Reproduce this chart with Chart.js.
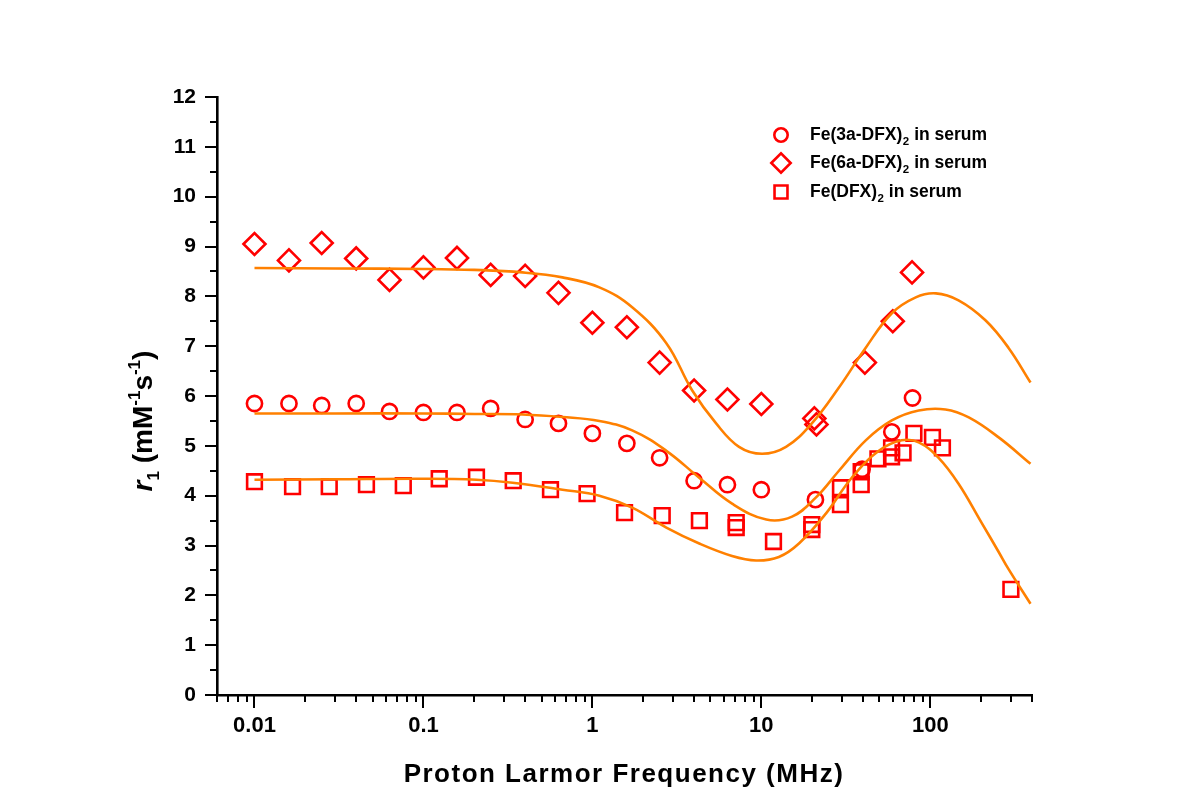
<!DOCTYPE html>
<html>
<head>
<meta charset="utf-8">
<title>Relaxivity profiles</title>
<script src="https://cdn.jsdelivr.net/npm/chart.js@4.4.1/dist/chart.umd.min.js"></script>
<style>
  html, body { margin: 0; padding: 0; background: #ffffff; }
  #wrap { width: 1181px; height: 791px; position: relative; }
</style>
</head>
<body>
<div id="wrap"><canvas id="nmrd" width="1181" height="791"></canvas></div>
<script>
const FONT = '"Liberation Sans", Arial, Helvetica, sans-serif';

// Measured r1 values (mM^-1 s^-1) against proton Larmor frequency (MHz)
const freq3a = [0.01, 0.016, 0.025, 0.04, 0.063, 0.1, 0.158, 0.25, 0.4, 0.63, 1, 1.6, 2.5, 4, 6.3, 10, 20.9, 39.5, 59.2, 78.5];
const r1_3a  = [5.85, 5.85, 5.81, 5.85, 5.69, 5.67, 5.67, 5.75, 5.53, 5.45, 5.25, 5.05, 4.76, 4.30, 4.22, 4.12, 3.92, 4.53, 5.28, 5.96];

const freq6a = [0.01, 0.016, 0.025, 0.04, 0.063, 0.1, 0.158, 0.25, 0.4, 0.63, 1, 1.6, 2.5, 4, 6.3, 10, 20.6, 21.2, 41, 60, 78];
const r1_6a  = [9.05, 8.72, 9.07, 8.76, 8.33, 8.58, 8.77, 8.43, 8.41, 8.07, 7.47, 7.38, 6.67, 6.11, 5.93, 5.84, 5.55, 5.43, 6.67, 7.50, 8.48];

const freqDFX = [0.01, 0.0168, 0.0277, 0.046, 0.076, 0.124, 0.206, 0.34, 0.565, 0.93, 1.55, 2.59, 4.3, 7.1, 7.1, 11.8, 19.9, 19.9, 29.4, 29.4, 39, 39, 49, 59, 59, 69, 80, 103, 118, 300];
const r1_DFX  = [4.28, 4.18, 4.18, 4.22, 4.20, 4.34, 4.37, 4.30, 4.12, 4.04, 3.66, 3.60, 3.50, 3.46, 3.36, 3.08, 3.42, 3.32, 4.16, 3.82, 4.48, 4.22, 4.74, 4.96, 4.78, 4.86, 5.25, 5.17, 4.96, 2.12];

// Fitted NMRD curves
const fit6aFreq = [0.01, 0.03, 0.1, 0.2, 0.386, 0.665, 1.10, 1.72, 2.74, 3.90, 5.40, 7.38, 10.1, 14.0, 19.9, 28.8, 41.5, 59.2, 82.0, 108, 147, 212, 290, 392];
const fit6aR1   = [8.57, 8.56, 8.55, 8.53, 8.48, 8.38, 8.18, 7.78, 7.06, 6.11, 5.45, 4.98, 4.84, 4.98, 5.45, 6.17, 6.97, 7.66, 7.98, 8.06, 7.92, 7.52, 6.97, 6.27];

const fit3aFreq = [0.01, 0.03, 0.1, 0.2, 0.386, 0.665, 1.10, 1.72, 2.74, 4.29, 6.71, 10.7, 15.2, 21.0, 28.8, 41.5, 59.2, 85.4, 123, 169, 254, 392];
const fit3aR1   = [5.65, 5.65, 5.65, 5.64, 5.63, 5.58, 5.50, 5.31, 4.90, 4.36, 3.84, 3.52, 3.58, 3.96, 4.50, 5.11, 5.51, 5.71, 5.73, 5.57, 5.17, 4.64];

const fitDFXFreq = [0.01, 0.03, 0.1, 0.206, 0.337, 0.665, 1.10, 1.72, 2.74, 4.29, 6.71, 9.31, 12.7, 16.7, 24.1, 34.3, 49.6, 67.8, 85.4, 112, 147, 201, 254, 290, 392];
const fitDFXR1   = [4.32, 4.33, 4.34, 4.32, 4.26, 4.12, 4.00, 3.76, 3.36, 3.04, 2.79, 2.70, 2.77, 3.04, 3.64, 4.36, 4.90, 5.11, 5.07, 4.76, 4.24, 3.46, 2.87, 2.53, 1.83];

// Axis ticks
const xMajorTicks = [0.01, 0.1, 1, 10, 100];
const xLabels = ['0.01', '0.1', '1', '10', '100'];
const yMajorTicks = [0, 1, 2, 3, 4, 5, 6, 7, 8, 9, 10, 11, 12];

// Legend entries: name, subscript, suffix
const legendNames = [
  ['Fe(3a-DFX)', '2', ' in serum'],
  ['Fe(6a-DFX)', '2', ' in serum'],
  ['Fe(DFX)', '2', ' in serum']
];

const RED = '#ff0000';
const ORANGE = '#ff8000';
const X_MIN = 0.006, X_MAX = 400;

const pairs = (xs, ys) => xs.map((x, i) => ({ x, y: ys[i] }));

function markerSet(label, xs, ys, style, radius) {
  return {
    label, data: pairs(xs, ys), showLine: false, order: 1,
    pointStyle: style, pointRadius: radius, pointHoverRadius: radius,
    pointBorderWidth: 2.6, pointBorderColor: RED, pointBackgroundColor: 'rgba(0,0,0,0)',
    borderColor: RED, backgroundColor: 'rgba(0,0,0,0)'
  };
}
function curveSet(label, xs, ys) {
  return {
    label, data: pairs(xs, ys), showLine: true, order: 0,
    pointRadius: 0, pointHoverRadius: 0, borderColor: ORANGE, borderWidth: 2.6,
    tension: 0.4, fill: false
  };
}

// Minor/major tick marks drawn outward from both axes
const tickMarks = {
  id: 'tickMarks',
  afterDraw(chart) {
    const ctx = chart.ctx, area = chart.chartArea;
    const xs = chart.scales.x, ys = chart.scales.y;
    ctx.save();
    ctx.strokeStyle = '#000';
    ctx.lineWidth = 2;
    xs.ticks.forEach(t => {
      const major = xMajorTicks.some(m => Math.abs(m - t.value) < m * 1e-6);
      const px = Math.round(xs.getPixelForValue(t.value));
      ctx.beginPath();
      ctx.moveTo(px, area.bottom);
      ctx.lineTo(px, area.bottom + (major ? 13 : 7));
      ctx.stroke();
    });
    ys.ticks.forEach(t => {
      const major = yMajorTicks.includes(t.value);
      const py = Math.round(ys.getPixelForValue(t.value));
      ctx.beginPath();
      ctx.moveTo(area.left, py);
      ctx.lineTo(area.left - (major ? 12 : 7), py);
      ctx.stroke();
    });
    ctx.restore();
  }
};

// Axis titles with sub/superscripts
const axisTitles = {
  id: 'axisTitles',
  afterDraw(chart) {
    const ctx = chart.ctx;
    ctx.save();
    ctx.fillStyle = '#000';
    ctx.textBaseline = 'alphabetic';
    ctx.textAlign = 'center';
    ctx.font = 'bold 26px ' + FONT;
    if ('letterSpacing' in ctx) ctx.letterSpacing = '1.5px';
    ctx.fillText('Proton Larmor Frequency (MHz)', 624, 782);
    if ('letterSpacing' in ctx) ctx.letterSpacing = '0px';

    // vertical title: r1 (mM-1 s-1)
    const big = 'bold 28px ' + FONT, bigIt = 'italic bold 28px ' + FONT, small = 'bold 17px ' + FONT;
    const parts = [
      [bigIt, 'r', 0], [small, '1', 7], [big, ' (mM', 0], [small, '-1', -12],
      [big, 's', 0], [small, '-1', -12], [big, ')', 0]
    ];
    let total = 0;
    parts.forEach(p => { ctx.font = p[0]; total += ctx.measureText(p[1]).width; });
    ctx.translate(152, 421);
    ctx.rotate(-Math.PI / 2);
    ctx.textAlign = 'left';
    let pos = -total / 2;
    parts.forEach(p => {
      ctx.font = p[0];
      ctx.fillText(p[1], pos, p[2]);
      pos += ctx.measureText(p[1]).width;
    });
    ctx.restore();
  }
};

// Legend with subscripted names
const seriesLegend = {
  id: 'seriesLegend',
  afterDraw(chart) {
    const ctx = chart.ctx;
    const rows = [135, 163, 192];
    const marks = chart.data.datasets.filter(d => !d.showLine);
    ctx.save();
    marks.forEach((d, i) => {
      const y = rows[i];
      ctx.strokeStyle = RED;
      ctx.fillStyle = 'rgba(0,0,0,0)';
      ctx.lineWidth = 2.6;
      Chart.helpers.drawPoint(ctx, { pointStyle: d.pointStyle, radius: d.pointRadius * 0.88, borderWidth: 2.6, rotation: 0 }, 781, y);
      const [name, sub, tail] = legendNames[i];
      ctx.fillStyle = '#000';
      ctx.textAlign = 'left';
      ctx.textBaseline = 'alphabetic';
      let x = 810;
      ctx.font = 'bold 17.5px ' + FONT;
      ctx.fillText(name, x, y + 5);
      x += ctx.measureText(name).width;
      ctx.font = 'bold 11.5px ' + FONT;
      ctx.fillText(sub, x + 0.5, y + 10);
      x += ctx.measureText(sub).width + 0.5;
      ctx.font = 'bold 17.5px ' + FONT;
      ctx.fillText(tail, x, y + 5);
    });
    ctx.restore();
  }
};

const logTickValues = [];
for (let e = -3; e <= 2; e++) {
  for (let m = 1; m <= 9; m++) {
    const v = Number((m * Math.pow(10, e)).toPrecision(6));
    if (v >= X_MIN - 1e-9 && v <= X_MAX + 1e-9) logTickValues.push(v);
  }
}
const linTickValues = [];
for (let v = 0; v <= 12; v += 0.5) linTickValues.push(v);

new Chart(document.getElementById('nmrd'), {
  type: 'scatter',
  data: {
    datasets: [
      markerSet('Fe(3a-DFX)2 in serum', freq3a, r1_3a, 'circle', 7.6),
      markerSet('Fe(6a-DFX)2 in serum', freq6a, r1_6a, 'rectRot', 11),
      markerSet('Fe(DFX)2 in serum', freqDFX, r1_DFX, 'rect', 10.4),
      curveSet('fit 6a', fit6aFreq, fit6aR1),
      curveSet('fit 3a', fit3aFreq, fit3aR1),
      curveSet('fit DFX', fitDFXFreq, fitDFXR1)
    ]
  },
  options: {
    responsive: false,
    animation: false,
    devicePixelRatio: 1,
    layout: { padding: { top: 97, right: 149, bottom: 0, left: 0 } },
    plugins: { legend: { display: false }, tooltip: { enabled: false } },
    scales: {
      x: {
        type: 'logarithmic', min: X_MIN, max: X_MAX,
        grid: { display: false, drawTicks: false },
        border: { display: true, color: '#000', width: 2.6 },
        afterBuildTicks: s => { s.ticks = logTickValues.map(v => ({ value: v })); },
        afterFit: s => { s.height = 96; },
        ticks: {
          autoSkip: false, maxRotation: 0, padding: 18, color: '#000',
          font: { family: FONT, size: 22, weight: 'bold' },
          callback: v => {
            const i = xMajorTicks.findIndex(m => Math.abs(m - v) < m * 1e-6);
            return i >= 0 ? xLabels[i] : '';
          }
        }
      },
      y: {
        type: 'linear', min: 0, max: 12,
        grid: { display: false, drawTicks: false },
        border: { display: true, color: '#000', width: 2.6 },
        afterBuildTicks: s => { s.ticks = linTickValues.map(v => ({ value: v })); },
        afterFit: s => { s.width = 217; },
        ticks: {
          autoSkip: false, padding: 21, color: '#000',
          font: { family: FONT, size: 21, weight: 'bold' },
          callback: v => (yMajorTicks.includes(v) ? String(v) : '')
        }
      }
    }
  },
  plugins: [tickMarks, axisTitles, seriesLegend]
});
</script>
</body>
</html>
